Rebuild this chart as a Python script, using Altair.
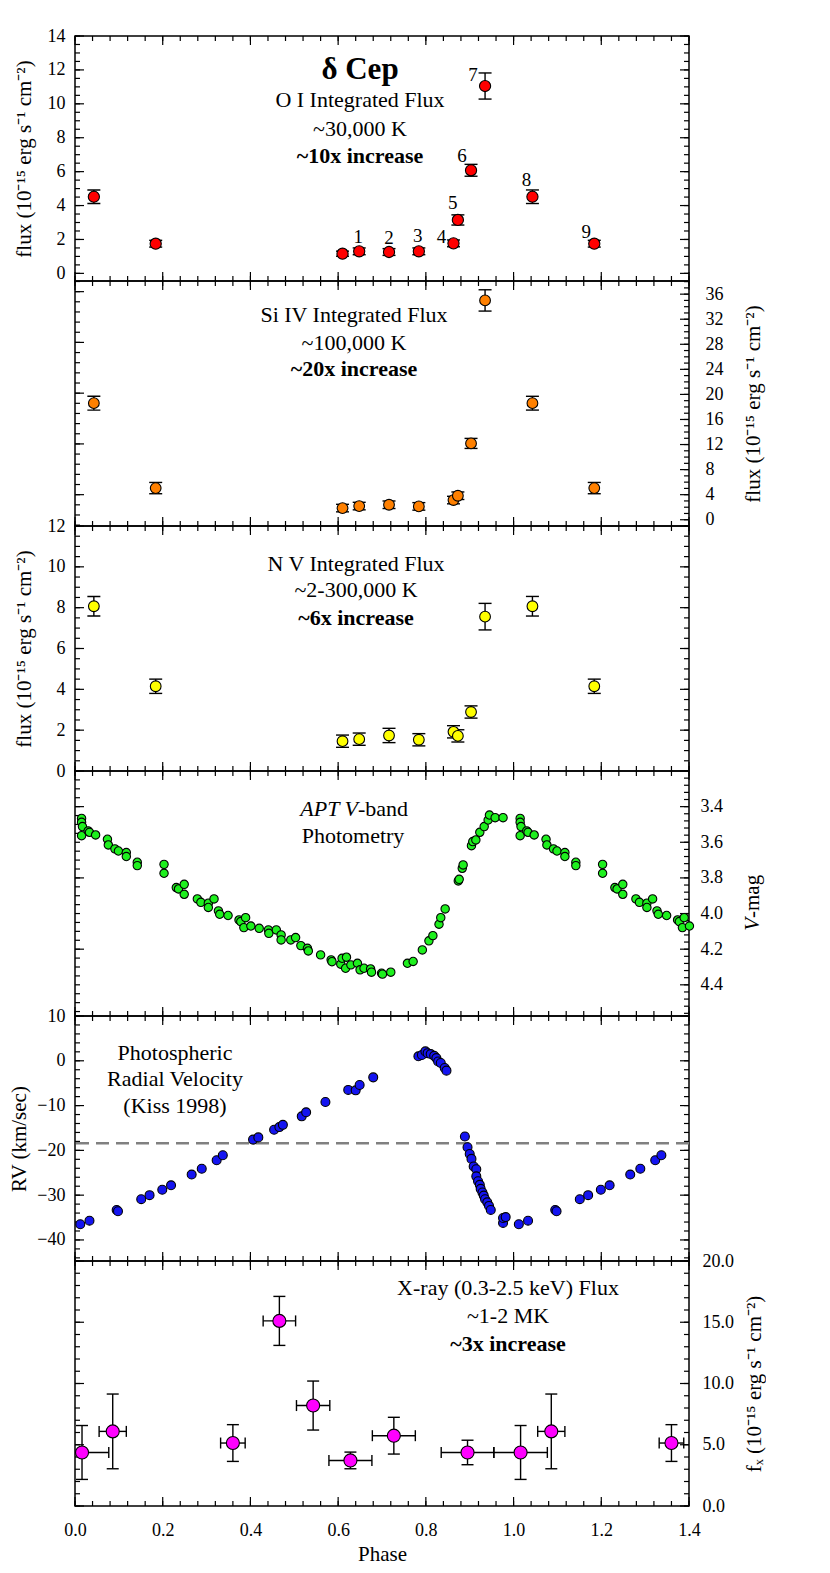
import altair as alt
import numpy as np
import pandas as pd

# ---------------- data ----------------
# UV observation phases (sequence labels 1-9); same phases for O I, Si IV, N V
UV_PHASE = [0.610, 0.648, 0.716, 0.784, 0.863, 0.873, 0.903, 0.935, 1.043, 1.184]
UV_LABEL = ["", "1", "2", "3", "4", "5", "6", "7", "8", "9"]

OI_FLUX = [1.16, 1.30, 1.26, 1.30, 1.77, 3.15, 6.08, 11.05, 4.52, 1.75]
OI_ERR = [0.15, 0.20, 0.20, 0.20, 0.20, 0.30, 0.35, 0.77, 0.40, 0.20]

SI_FLUX = [1.86, 2.18, 2.39, 2.13, 3.14, 3.83, 12.18, 35.0, 18.6, 5.05]
SI_ERR = [0.6, 0.6, 0.6, 0.6, 0.6, 0.6, 0.8, 1.7, 1.1, 0.9]

NV_FLUX = [1.46, 1.56, 1.74, 1.53, 1.92, 1.72, 2.89, 7.56, 8.07, 4.15]
NV_ERR = [0.30, 0.30, 0.35, 0.30, 0.30, 0.30, 0.30, 0.65, 0.48, 0.35]

# APT V-band photometry
V_PHASE = [0.015, 0.015, 0.017, 0.015, 0.030, 0.033, 0.047, 0.074, 0.076, 0.091,
           0.099, 0.117, 0.117, 0.142, 0.142, 0.203, 0.203, 0.231, 0.236, 0.249,
           0.249, 0.279, 0.287, 0.304, 0.304, 0.317, 0.327, 0.330, 0.349, 0.374,
           0.378, 0.389, 0.385, 0.401, 0.420, 0.441, 0.442, 0.459, 0.470, 0.470,
           0.492, 0.503, 0.515, 0.530, 0.532, 0.560, 0.584, 0.586, 0.606, 0.609,
           0.619, 0.617, 0.629, 0.644, 0.650, 0.659, 0.674, 0.676, 0.699, 0.701,
           0.720, 0.758, 0.771, 0.792, 0.807, 0.816, 0.830, 0.834, 0.844, 0.874,
           0.876, 0.883, 0.885, 0.904, 0.907, 0.914, 0.923, 0.933, 0.942, 0.945,
           0.958, 0.976]
V_MAG = [3.466, 3.488, 3.512, 3.563, 3.536, 3.544, 3.559, 3.583, 3.615, 3.637,
         3.649, 3.658, 3.680, 3.712, 3.731, 3.724, 3.774, 3.854, 3.862, 3.836,
         3.892, 3.918, 3.937, 3.942, 3.966, 3.918, 3.985, 4.004, 4.011, 4.036,
         4.045, 4.023, 4.079, 4.070, 4.083, 4.092, 4.111, 4.092, 4.120, 4.148,
         4.148, 4.135, 4.180, 4.195, 4.210, 4.232, 4.260, 4.270, 4.284, 4.251,
         4.245, 4.307, 4.288, 4.279, 4.316, 4.307, 4.311, 4.329, 4.335, 4.340,
         4.329, 4.279, 4.269, 4.204, 4.153, 4.124, 4.060, 4.023, 3.974, 3.817,
         3.808, 3.746, 3.727, 3.619, 3.596, 3.587, 3.544, 3.512, 3.475, 3.447,
         3.462, 3.462]

# Photospheric radial velocity (Kiss 1998)
RV_PHASE = [0.012, 0.033, 0.095, 0.098, 0.151, 0.170, 0.199, 0.219, 0.266, 0.289,
            0.323, 0.337, 0.406, 0.418, 0.454, 0.466, 0.474, 0.517, 0.527, 0.571,
            0.623, 0.640, 0.649, 0.680, 0.783, 0.791, 0.799, 0.804, 0.811, 0.819,
            0.824, 0.828, 0.834, 0.843, 0.847, 0.889, 0.895, 0.900, 0.904, 0.909,
            0.915, 0.915, 0.919, 0.923, 0.925, 0.929, 0.932, 0.935, 0.940, 0.944,
            0.948, 0.976, 0.976, 0.982]
RV_KMS = [-36.5, -35.7, -33.3, -33.6, -30.9, -30.0, -28.8, -27.8, -25.4, -24.1,
          -22.2, -21.1, -17.6, -17.1, -15.4, -14.8, -14.3, -12.4, -11.5, -9.2,
          -6.5, -6.6, -5.4, -3.7, 1.0, 1.3, 2.1, 1.7, 1.5, 1.1,
          0.6, -0.15, -0.5, -1.6, -2.2, -16.9, -19.3, -20.8, -21.9, -23.6,
          -24.2, -25.8, -26.9, -27.7, -28.6, -29.4, -30.1, -30.9, -31.6, -32.4,
          -33.3, -36.2, -35.1, -34.9]
RV_GAMMA = -18.4

# X-ray (0.3-2.5 keV) flux
XR_PHASE = [0.016, 0.086, 0.360, 0.466, 0.543, 0.628, 0.727, 0.895]
XR_FLUX = [4.37, 6.09, 5.14, 15.11, 8.20, 3.72, 5.74, 4.37]
XR_PERR = [0.061, 0.031, 0.028, 0.037, 0.038, 0.049, 0.049, 0.060]
XR_FERR = [2.20, 3.05, 1.50, 2.00, 2.00, 0.68, 1.50, 1.00]

# ---------------- helpers ----------------
FONT = "Liberation Serif"
W, H = 614, 245
XSC = alt.Scale(domain=[0, 1.4], zero=False, nice=False)
NOTE = 22


def fold(phase, cols, hi=1.4):
    """Repeat each observation one cycle earlier/later when it falls in the plotted range."""
    rows = []
    for i, p in enumerate(phase):
        for shift in (-1, 0, 1):
            q = round(p + shift, 4)
            if -0.001 <= q <= hi + 0.005:
                r = {"phase": q, "copy": shift != 0}
                for k, v in cols.items():
                    r[k] = v[i]
                rows.append(r)
    return pd.DataFrame(rows)


def ysc(dom, rev=False):
    return alt.Scale(domain=dom, zero=False, nice=False, reverse=rev)


def rng(a, b, s):
    return [float(v) for v in np.round(np.arange(a, b + s * 0.01, s), 4)]


def ticks(Y, dom, ymaj_l, ymin_l, ymaj_r, ymin_r):
    lo, hi = min(dom), max(dom)
    layers = []
    for vals, L in ((rng(0, 1.4, 0.2), 9), (rng(0, 1.4, 0.04), 5)):
        src = alt.Chart(pd.DataFrame({"t": vals})).mark_rule(color="black", strokeWidth=1.2)
        xe = alt.X("t:Q", scale=XSC, axis=None)
        layers.append(src.encode(x=xe, y=alt.value(0), y2=alt.value(L)))
        layers.append(src.encode(x=xe, y=alt.value(H), y2=alt.value(H - L)))
    for vals, L, side in ((ymaj_l, 9, "l"), (ymin_l, 5, "l"), (ymaj_r, 9, "r"), (ymin_r, 5, "r")):
        vals = [v for v in vals if lo <= v <= hi]
        src = alt.Chart(pd.DataFrame({"t": vals})).mark_rule(color="black", strokeWidth=1.2)
        ye = alt.Y("t:Q", scale=Y, axis=None)
        if side == "l":
            layers.append(src.encode(y=ye, x=alt.value(0), x2=alt.value(L)))
        else:
            layers.append(src.encode(y=ye, x=alt.value(W), x2=alt.value(W - L)))
    return layers


def note(txt, x, y, size=NOTE, bold=False, italic=False, align="center", angle=0):
    return alt.Chart(alt.Data(values=[{}])).mark_text(
        font=FONT, fontSize=size, fontWeight="bold" if bold else "normal",
        fontStyle="italic" if italic else "normal", align=align, baseline="middle",
        angle=angle, color="black").encode(x=alt.value(x), y=alt.value(y), text=alt.value(txt))


def yerr(df, Y, cap=13, clip=False):
    base = alt.Chart(df)
    xe = alt.X("phase:Q", scale=XSC, axis=None)
    rule = base.mark_rule(color="black", strokeWidth=1.4, clip=clip).encode(
        x=xe, y=alt.Y("lo:Q", scale=Y, axis=None), y2="hi:Q")
    c1 = base.mark_tick(orient="horizontal", size=cap, thickness=1.4, color="black",
                        opacity=1, clip=clip).encode(x=xe, y=alt.Y("lo:Q", scale=Y, axis=None))
    c2 = base.mark_tick(orient="horizontal", size=cap, thickness=1.4, color="black",
                        opacity=1, clip=clip).encode(x=xe, y=alt.Y("hi:Q", scale=Y, axis=None))
    return [rule, c1, c2]


def pts(df, col, Y, color, size, yaxis, xaxis=None):
    return alt.Chart(df).mark_circle(size=size, color=color, stroke="black",
                                     strokeWidth=1.1, opacity=1).encode(
        x=alt.X("phase:Q", scale=XSC, axis=xaxis),
        y=alt.Y(f"{col}:Q", scale=Y, axis=yaxis))


def laxis(values, title, tpad, fmt=None):
    kw = dict(orient="left", values=values, ticks=False, domain=False, grid=False,
              labelPadding=10, labelOverlap=False, labelFlush=False,
              title=title, titlePadding=tpad)
    if fmt:
        kw["format"] = fmt
    return alt.Axis(**kw)


def raxis(values, title, tpad, fmt=None, lpad=14):
    kw = dict(orient="right", values=values, ticks=False, domain=False, grid=False,
              labelPadding=lpad, labelOverlap=False, labelFlush=False, labelAlign="left",
              titlePadding=tpad, titleAngle=270, titleBaseline="top")
    kw["title"] = title if title else None
    if fmt:
        kw["format"] = fmt
    return alt.Axis(**kw)


def panel(*layers):
    return alt.layer(*layers).resolve_axis(x="independent", y="independent").properties(
        width=W, height=H)


T_FLUX = "flux (10⁻¹⁵ erg s⁻¹ cm⁻²)"

# ---------------- panel 1 : O I ----------------
D1 = [-0.45, 14]
Y1 = ysc(D1)
oi = fold(UV_PHASE, {"flux": OI_FLUX, "err": OI_ERR, "label": UV_LABEL})
oi["lo"] = oi["flux"] - oi["err"]
oi["hi"] = oi["flux"] + oi["err"]
LABEL_OFFSETS = {"1": (-1, -14), "2": (0, -14), "3": (-1, -15), "4": (-12, -6),
                 "5": (-5, -17), "6": (-9, -14), "7": (-12, -11), "8": (-6, -17),
                 "9": (-8, -12)}
lab_layers = []
for k, (dx, dy) in LABEL_OFFSETS.items():
    lab_layers.append(
        alt.Chart(oi).transform_filter((alt.datum.label == k) & (alt.datum.copy == False))
        .mark_text(font=FONT, fontSize=19, dx=dx, dy=dy, color="black")
        .encode(x=alt.X("phase:Q", scale=XSC, axis=None),
                y=alt.Y("flux:Q", scale=Y1, axis=None), text="label:N"))
m1 = rng(0, 14, 2)
n1 = rng(0, 14, 0.5)
p1 = panel(
    *ticks(Y1, D1, m1, n1, m1, n1),
    *yerr(oi, Y1),
    pts(oi, "flux", Y1, "#FF0000", 125, laxis(m1, T_FLUX, 13)),
    *lab_layers,
    note("δ Cep", 285, 34, size=31, bold=True),
    note("O I Integrated Flux", 285, 64),
    note("~30,000 K", 285, 93),
    note("~10x increase", 285, 120, bold=True),
)

# ---------------- panel 2 : Si IV ----------------
D2 = [-1, 38.1]
Y2 = ysc(D2)
si = fold(UV_PHASE, {"flux": SI_FLUX, "err": SI_ERR})
si["lo"] = si["flux"] - si["err"]
si["hi"] = si["flux"] + si["err"]
m2l = [round(4.0 + 8.1 * k, 2) for k in range(5)]
n2l = [round(4.0 + 1.62 * k, 2) for k in range(-3, 22)]
p2 = panel(
    *ticks(Y2, D2, m2l, n2l, rng(0, 36, 4), rng(-1, 38, 1)),
    *yerr(si, Y2),
    pts(si, "flux", Y2, "#FF8000", 115, raxis(rng(0, 36, 4), T_FLUX, 19, lpad=16)),
    note("Si IV Integrated Flux", 279, 34),
    note("~100,000 K", 279, 62),
    note("~20x increase", 279, 88, bold=True),
)

# ---------------- panel 3 : N V ----------------
D3 = [0, 12]
Y3 = ysc(D3)
nv = fold(UV_PHASE, {"flux": NV_FLUX, "err": NV_ERR})
nv["lo"] = nv["flux"] - nv["err"]
nv["hi"] = nv["flux"] + nv["err"]
m3 = rng(0, 12, 2)
n3 = rng(0, 12, 0.5)
p3 = panel(
    *ticks(Y3, D3, m3, n3, m3, n3),
    *yerr(nv, Y3),
    pts(nv, "flux", Y3, "#FFFF00", 115, laxis(m3, T_FLUX, 13)),
    note("N V Integrated Flux", 281, 38),
    note("~2-300,000 K", 281, 64),
    note("~6x increase", 281, 92, bold=True),
)

# ---------------- panel 4 : V-band ----------------
D4 = [3.2, 4.575]
Y4 = ysc(D4, rev=True)
vb = fold(V_PHASE, {"mag": V_MAG})
p4 = panel(
    *ticks(Y4, D4, [3.4, 3.8, 4.2], rng(3.2, 4.55, 0.05), rng(3.2, 4.4, 0.2), rng(3.2, 4.56, 0.04)),
    pts(vb, "mag", Y4, "#1EF01E", 70,
        raxis(rng(3.4, 4.4, 0.2), None, 20, fmt=".1f", lpad=11)),
    note("APT V", 283, 38, italic=True, align="right"),
    note("-band", 283, 38, align="left"),
    note("Photometry", 278, 65),
    # rotated axis title "V-mag" with italic V
    note("V", 678, 147, size=21, italic=True, align="right", angle=270),
    note("-mag", 678, 147, size=21, align="left", angle=270),
)

# ---------------- panel 5 : radial velocity ----------------
D5 = [-44.7, 10]
Y5 = ysc(D5)
rv = fold(RV_PHASE, {"rv": RV_KMS})
m5 = rng(-40, 10, 10)
n5 = rng(-44, 10, 2)
gamma = alt.Chart(pd.DataFrame({"g": [RV_GAMMA]})).mark_rule(
    color="#808080", strokeWidth=2.6, strokeDash=[13, 7]).encode(
    y=alt.Y("g:Q", scale=Y5, axis=None))
p5 = panel(
    *ticks(Y5, D5, m5, n5, m5, n5),
    gamma,
    pts(rv, "rv", Y5, "#1414F0", 80, laxis(m5, "RV (km/sec)", 7)),
    note("Photospheric", 100, 37),
    note("Radial Velocity", 100, 63),
    note("(Kiss 1998)", 100, 90),
)

# ---------------- panel 6 : X-ray ----------------
D6 = [0, 20]
Y6 = ysc(D6)
xr = fold(XR_PHASE, {"flux": XR_FLUX, "perr": XR_PERR, "ferr": XR_FERR})
xr["lo"] = xr["flux"] - xr["ferr"]
xr["hi"] = xr["flux"] + xr["ferr"]
xr["xlo"] = xr["phase"] - xr["perr"]
xr["xhi"] = xr["phase"] + xr["perr"]
xbase = alt.Chart(xr)
hbar = xbase.mark_rule(color="black", strokeWidth=1.4, clip=True).encode(
    x=alt.X("xlo:Q", scale=XSC, axis=None), x2="xhi:Q",
    y=alt.Y("flux:Q", scale=Y6, axis=None))
hcap1 = xbase.mark_tick(orient="vertical", size=11, thickness=1.4, color="black",
                        opacity=1, clip=True).encode(
    x=alt.X("xlo:Q", scale=XSC, axis=None), y=alt.Y("flux:Q", scale=Y6, axis=None))
hcap2 = xbase.mark_tick(orient="vertical", size=11, thickness=1.4, color="black",
                        opacity=1, clip=True).encode(
    x=alt.X("xhi:Q", scale=XSC, axis=None), y=alt.Y("flux:Q", scale=Y6, axis=None))
m6 = rng(0, 20, 5)
n6 = rng(0, 20, 1)
xaxis = alt.Axis(orient="bottom", values=rng(0, 1.4, 0.2), format=".1f", ticks=False,
                 domain=False, grid=False, labelPadding=15, labelFlush=False,
                 labelOverlap=False, title="Phase", titlePadding=4)
p6 = panel(
    *ticks(Y6, D6, m6, n6, m6, n6),
    *yerr(xr, Y6, cap=12, clip=True),
    hbar, hcap1, hcap2,
    pts(xr, "flux", Y6, "#FF00FF", 170,
        raxis(m6, "fₓ (10⁻¹⁵ erg s⁻¹ cm⁻²)", 10, fmt=".1f", lpad=13), xaxis=xaxis),
    note("X-ray (0.3-2.5 keV) Flux", 433, 27),
    note("~1-2 MK", 433, 55),
    note("~3x increase", 433, 83, bold=True),
)

chart = alt.vconcat(p1, p2, p3, p4, p5, p6, spacing=0, bounds="flush").properties(
    padding={"left": 0, "top": 18, "right": 0, "bottom": 0}
).configure_view(
    stroke="black", strokeWidth=1.5
).configure_axis(
    labelFont=FONT, titleFont=FONT, labelFontSize=18, titleFontSize=21,
    titleFontWeight="normal", labelColor="black", titleColor="black"
).configure_text(font=FONT)

chart.save("out.html", embed_options={"renderer": "svg", "actions": False})
